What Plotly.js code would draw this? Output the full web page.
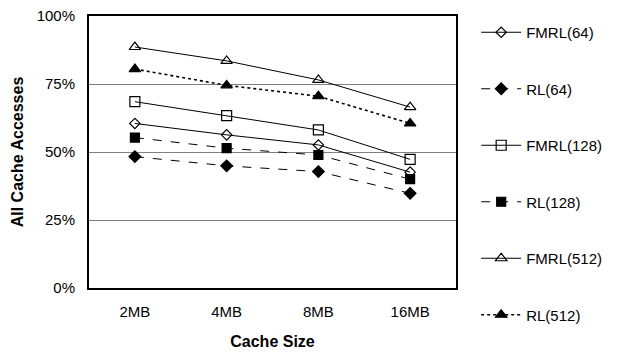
<!DOCTYPE html>
<html><head><meta charset="utf-8">
<script src="https://cdn.plot.ly/plotly-3.0.1.min.js"></script>
<style>body{margin:0;background:#fff}#chart{width:619px;height:352px}</style>
</head><body><div id="chart"></div>
<script>
const categories = ['2MB','4MB','8MB','16MB'];
const seriesNames = ['FMRL(64)','RL(64)','FMRL(128)','RL(128)','FMRL(512)','RL(512)'];
const fmrl64  = [60.5, 56.3, 52.6, 42.6];
const rl64    = [48.3, 44.9, 42.8, 34.8];
const fmrl128 = [68.5, 63.4, 58.1, 47.3];
const rl128   = [55.3, 51.4, 48.9, 40.0];
const fmrl512 = [88.6, 83.5, 76.5, 66.5];
const rl512   = [80.5, 74.5, 70.5, 60.5];
const yTicks = [0, 25, 50, 75, 100];

const values = [fmrl64, rl64, fmrl128, rl128, fmrl512, rl512];
const symbols = ['diamond-open','diamond','square-open','square','triangle-up-open','triangle-up'];
const dashes = ['solid','dash','solid','dash','solid','dot'];
const widths = [1,1,1,1,1,1.6];
const sizes = [8,9,10,9,10,10];

const traces = values.map((v,i)=>({
  x: categories, y: v, name: seriesNames[i], type:'scatter', mode:'lines+markers',
  legendgroup: 'g'+i,
  line:{color:'#000', width:widths[i], dash:dashes[i]},
  marker:{symbol:symbols[i], size:sizes[i], color:'#000', line:{color:'#000', width:1.2}}
}));

const layout = {
  width:619, height:352,
  margin:{l:89, r:153, t:16, b:64},
  paper_bgcolor:'#fff', plot_bgcolor:'#fff',
  font:{family:'"Liberation Sans", Arial, sans-serif', size:15, color:'#000'},
  showlegend:true,
  legend:{x:1.055, xanchor:'left', y:1.0, yanchor:'top', tracegroupgap:34, maxheight:352,
          font:{size:15}, itemwidth:40, bgcolor:'rgba(0,0,0,0)'},
  xaxis:{type:'category', range:[-0.5,3.5], showline:true, mirror:true, linewidth:2, linecolor:'#000',
         showgrid:false, ticks:'', tickfont:{size:15}, ticklabelstandoff:9,
         title:{text:'<b>Cache Size</b>', font:{size:16}, standoff:17}},
  yaxis:{range:[0,100], tickvals:yTicks, ticktext:yTicks.map(t=>t+'%'),
         showline:true, mirror:true, linewidth:2, linecolor:'#000',
         showgrid:true, gridcolor:'#808080', gridwidth:1, zeroline:false, ticks:'',
         tickfont:{size:15}, ticklabelstandoff:9,
         title:{text:'<b>All Cache Accesses</b>', font:{size:16}, standoff:9}}
};
Plotly.newPlot('chart', traces, layout, {displayModeBar:false, staticPlot:true});
</script></body></html>
